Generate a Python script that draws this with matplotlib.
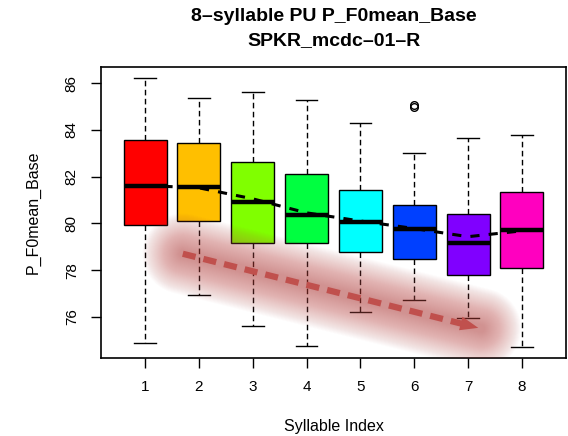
import numpy as np
import matplotlib
matplotlib.use("Agg")
import matplotlib.pyplot as plt

plt.rcParams['font.family'] = ['Liberation Sans', 'DejaVu Sans']

# boxplot statistics (syllable index 1..8)
syllables = [1, 2, 3, 4, 5, 6, 7, 8]
whis_hi = [86.21, 85.38, 85.60, 85.28, 84.29, 83.00, 83.67, 83.78]
q3 = [83.57, 83.45, 82.61, 82.10, 81.43, 80.78, 80.38, 81.33]
medians = [81.61, 81.55, 80.90, 80.36, 80.04, 79.74, 79.17, 79.71]
q1 = [79.93, 80.10, 79.14, 79.17, 78.78, 78.46, 77.78, 78.07]
whis_lo = [74.88, 76.93, 75.60, 74.74, 76.21, 76.74, 75.97, 74.71]
outliers = [[], [], [], [], [], [85.06, 84.99], [], []]
means = [81.62, 81.52, 81.05, 80.45, 80.10, 79.78, 79.43, 79.68]

# rainbow(8) as in R
box_colors = ["#FF0000", "#FFBF00", "#80FF00", "#00FF40",
              "#00FFFF", "#0040FF", "#8000FF", "#FF00BF"]

# hand drawn trend arrow (start, end)
arrow_x = [1.70, 7.24]
arrow_y = [78.70, 75.50]
arrow_color = "#C0504D"

title_1 = "8\u2013syllable PU P_F0mean_Base"
title_2 = "SPKR_mcdc\u201301\u2013R"

fig = plt.figure(figsize=(5.68, 4.36), dpi=100)
ax = fig.add_axes([101/568, 1-358/436, 465/568, 291/436])

stats = []
for i in range(len(syllables)):
    stats.append(dict(med=medians[i], q1=q1[i], q3=q3[i],
                      whislo=whis_lo[i], whishi=whis_hi[i],
                      fliers=outliers[i]))

bp = ax.bxp(stats, positions=syllables, widths=0.8, capwidths=0.4,
            patch_artist=True, showfliers=True,
            boxprops=dict(lw=1.0, edgecolor="black"),
            whiskerprops=dict(ls=(0, (4, 2.5)), lw=1.0, color="black"),
            capprops=dict(lw=1.0, color="black"),
            medianprops=dict(lw=3.2, color="black", solid_capstyle="butt"),
            flierprops=dict(marker="o", mfc="none", mec="black", ms=5.5, mew=1.0))
for patch, c in zip(bp["boxes"], box_colors):
    patch.set_facecolor(c)

# mean trend line
ax.plot(syllables, means, color="black", lw=2.2, ls=(0, (3, 3)), zorder=4)

# soft glow behind the arrow
for w in np.linspace(58, 6, 40):
    ax.plot(arrow_x, arrow_y, color=arrow_color, lw=w, alpha=0.02,
            solid_capstyle="round", zorder=5)

# dashed shaft + head
t_end = 0.95
shaft_x = [arrow_x[0], arrow_x[0] + t_end*(arrow_x[1]-arrow_x[0])]
shaft_y = [arrow_y[0], arrow_y[0] + t_end*(arrow_y[1]-arrow_y[0])]
ax.plot(shaft_x, shaft_y, color=arrow_color, lw=4.5, ls=(0, (2.1, 1.3)),
        dash_capstyle="butt", zorder=6)
t_head = 0.9
ax.annotate("", xy=(arrow_x[1], arrow_y[1]),
            xytext=(arrow_x[0] + t_head*(arrow_x[1]-arrow_x[0]),
                    arrow_y[0] + t_head*(arrow_y[1]-arrow_y[0])),
            arrowprops=dict(arrowstyle="-|>,head_length=1.3,head_width=0.5",
                            color=arrow_color, lw=0, mutation_scale=10),
            zorder=6)

ax.set_xlim(0.18, 8.82)
ax.set_ylim(74.24, 86.69)
ax.set_xticks(syllables)
ax.set_xticklabels([str(s) for s in syllables])
ax.set_yticks([76, 78, 80, 82, 84, 86])
ax.set_yticklabels(["76", "78", "80", "82", "84", "86"], rotation=90, va="center")
ax.tick_params(axis="x", length=7, width=1, pad=8.5, labelsize=11)
ax.tick_params(axis="y", length=7, width=1, pad=9, labelsize=11)
for s in ax.spines.values():
    s.set_linewidth(1.2)

ax.set_xlabel("Syllable Index", fontsize=11.5)
ax.xaxis.set_label_coords(0.5, (358-426.7)/291)
ax.xaxis.label.set_va("center")
ax.set_ylabel("P_F0mean_Base", fontsize=11.5)
ax.yaxis.set_label_coords((33-101)/465, 0.5)
ax.yaxis.label.set_va("center")

fig.text(333.8/568, 1-16.7/436, title_1, ha="center", va="center",
         fontsize=14, fontweight="bold")
fig.text(333.8/568, 1-40.7/436, title_2, ha="center", va="center",
         fontsize=14, fontweight="bold")

fig.savefig("out.png", dpi=100)
